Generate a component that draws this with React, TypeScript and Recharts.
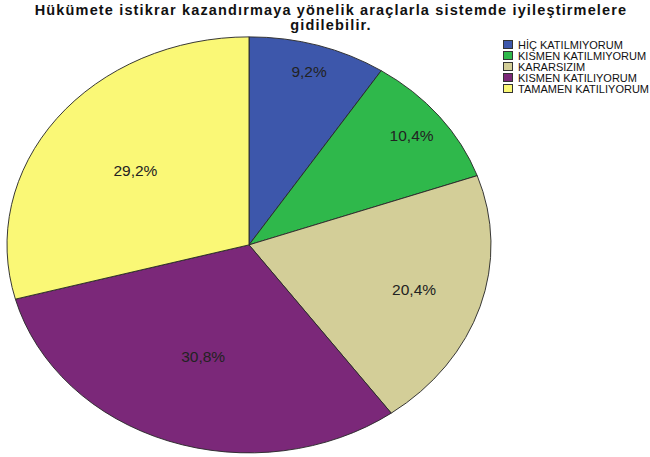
import React from 'react';
import { PieChart, Pie, Cell } from 'recharts';

const TITLE_LINES = ['Hükümete istikrar kazandırmaya yönelik araçlarla sistemde iyileştirmelere', 'gidilebilir.'];
const CATEGORIES = ['HİÇ KATILMIYORUM', 'KISMEN KATILMIYORUM', 'KARARSIZIM', 'KISMEN KATILIYORUM', 'TAMAMEN KATILIYORUM'];
const PERCENTS = [9.2, 10.4, 20.4, 30.8, 29.2];
const COLORS = ['#3D57AB', '#2FB84B', '#D3CE98', '#7B2879', '#FAF876'];

const data = CATEGORIES.map((name, i) => ({ name, value: PERCENTS[i] }));

// the SPSS pie is a tilted circle: draw a circle, then squash it vertically
const R = 242;
const K = 208 / 242;
const CX = 249;
const CY = 250;

const renderLabel = (props: any) => {
  const { cx, cy, midAngle, outerRadius, percent, value } = props;
  const rad = (-midAngle * Math.PI) / 180;
  // smaller slices get their label pushed further out
  const r = outerRadius * (1 - percent * 1.4);
  const x = cx + r * Math.cos(rad);
  const y = cy + r * Math.sin(rad);
  return (
    <text
      x={x}
      y={y}
      textAnchor="middle"
      dominantBaseline="central"
      fontSize={15.5}
      fill="#222"
      transform={`translate(${x} ${y}) scale(1 ${1 / K}) translate(${-x} ${-y})`}
    >
      {`${String(value).replace('.', ',')}%`}
    </text>
  );
};

export default function App() {
  return (
    <div
      style={{
        position: 'absolute',
        left: 0,
        top: 0,
        width: 650,
        height: 457,
        background: '#fff',
        fontFamily: 'Arial, "Liberation Sans", sans-serif',
        overflow: 'hidden',
      }}
    >
      <div
        style={{
          position: 'absolute',
          left: 0,
          top: 3,
          width: 662,
          textAlign: 'center',
          fontWeight: 'bold',
          fontSize: 14.5,
          letterSpacing: 1.15,
          lineHeight: '15px',
          color: '#111',
        }}
      >
        {TITLE_LINES.map((t) => (
          <div key={t}>{t}</div>
        ))}
      </div>

      <div
        style={{
          position: 'absolute',
          left: 0,
          top: 245 - CY * K,
          width: 500,
          height: 500,
          transform: `scaleY(${K})`,
          transformOrigin: '0 0',
        }}
      >
        <PieChart width={500} height={500} margin={{ top: 0, right: 0, bottom: 0, left: 0 }}>
          <Pie
            data={data}
            dataKey="value"
            cx={CX}
            cy={CY}
            outerRadius={R}
            startAngle={90}
            endAngle={-270}
            stroke="#2a2a2a"
            strokeWidth={1}
            label={renderLabel}
            labelLine={false}
            isAnimationActive={false}
          >
            {data.map((d, i) => (
              <Cell key={d.name} fill={COLORS[i]} />
            ))}
          </Pie>
        </PieChart>
      </div>

      <div style={{ position: 'absolute', left: 503, top: 39 }}>
        {CATEGORIES.map((c, i) => (
          <div key={c} style={{ display: 'flex', alignItems: 'center', height: 11, whiteSpace: 'nowrap' }}>
            <span
              style={{
                display: 'inline-block',
                boxSizing: 'border-box',
                width: 10,
                height: 9,
                background: COLORS[i],
                border: '1px solid #333',
                marginRight: 5,
              }}
            />
            <span style={{ fontSize: 11, color: '#111' }}>{c}</span>
          </div>
        ))}
      </div>
    </div>
  );
}
